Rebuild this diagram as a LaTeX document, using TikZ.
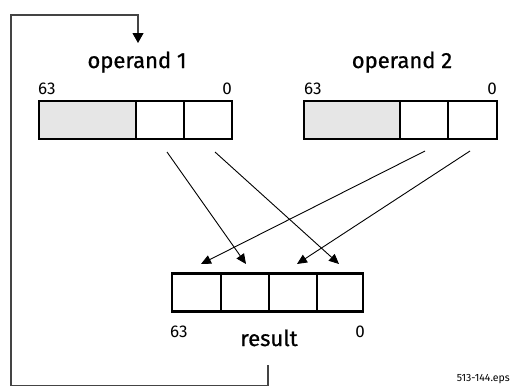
\documentclass[tikz,border=0pt]{standalone}
\usepackage{fontspec}
\setmainfont{Fira Sans}
\newfontfamily\titlefont{Fira Sans}[FakeBold=0.8]
\usetikzlibrary{arrows.meta}
\definecolor{cellgray}{HTML}{E6E6E6}
\definecolor{loopgray}{HTML}{444444}
\begin{document}
\begin{tikzpicture}[x=1pt,y=-1pt,
  cell/.style={draw=black,line width=2.4pt,rectangle,inner sep=0pt,outer sep=0pt,minimum height=38pt},
  bitlbl/.style={inner sep=0pt,font=\fontsize{17}{17}\selectfont},
  title/.style={inner sep=0pt,font=\titlefont\fontsize{22}{22}\selectfont},
  conn/.style={line width=0.9pt,-{Triangle[length=10pt,width=9pt]}},
  loop/.style={draw=loopgray,line width=1.1pt}]
\useasboundingbox (0,0) rectangle (511,388);
% operand 1
\node[cell,fill=cellgray,minimum width=97pt] (a1) at (87.5,120) {};
\node[cell,minimum width=48pt] (a2) at (160,120) {};
\node[cell,minimum width=48pt] (a3) at (208,120) {};
% operand 2
\node[cell,fill=cellgray,minimum width=96pt] (b1) at (352,120) {};
\node[cell,minimum width=48pt] (b2) at (424,120) {};
\node[cell,minimum width=49pt] (b3) at (472.5,120) {};
% result
\node[cell,minimum width=49pt] (r1) at (196.5,292.5) {};
\node[cell,minimum width=48pt] (r2) at (245,292.5) {};
\node[cell,minimum width=48pt] (r3) at (293,292.5) {};
\node[cell,minimum width=46pt] (r4) at (340,292.5) {};
% labels
\node[title,anchor=base] (t1) at (137,68) {operand 1};
\node[title,anchor=base] (t2) at (402,68) {operand 2};
\node[title,anchor=base] (t3) at (269,346) {result};
\node[bitlbl,anchor=base west] (l1) at (38,94) {63};
\node[bitlbl,anchor=base east] (l2) at (232,94) {0};
\node[bitlbl,anchor=base west] (l3) at (304,94) {63};
\node[bitlbl,anchor=base east] (l4) at (497,94) {0};
\node[bitlbl,anchor=base west] (l5) at (170,337) {63};
\node[bitlbl,anchor=base east] (l6) at (365,337) {0};
\node[inner sep=0pt,anchor=base east,font=\fontsize{10.5}{10.5}\selectfont] (fn) at (510,381) {513-144.eps};
% connector points
\coordinate (s1) at (167,152);
\coordinate (s2) at (215,152);
\coordinate (s3) at (425,151);
\coordinate (s4) at (470,151);
\coordinate (e1) at (201,264);
\coordinate (e2) at (246,264);
\coordinate (e3) at (297,264);
\coordinate (e4) at (339,264);
\draw[conn] (s1) -- (e2);
\draw[conn] (s2) -- (e4);
\draw[conn] (s3) -- (e1);
\draw[conn] (s4) -- (e3);
% feedback loop
\coordinate (fb) at (268,365);
\coordinate (ft) at (138,43);
\draw[loop,-{Triangle[length=10pt,width=11pt,fill=black,color=black]}] (fb) -- (268,385.5) -- (11,385.5) -- (11,15) -- (138,15) -- (ft);
\end{tikzpicture}
\end{document}
